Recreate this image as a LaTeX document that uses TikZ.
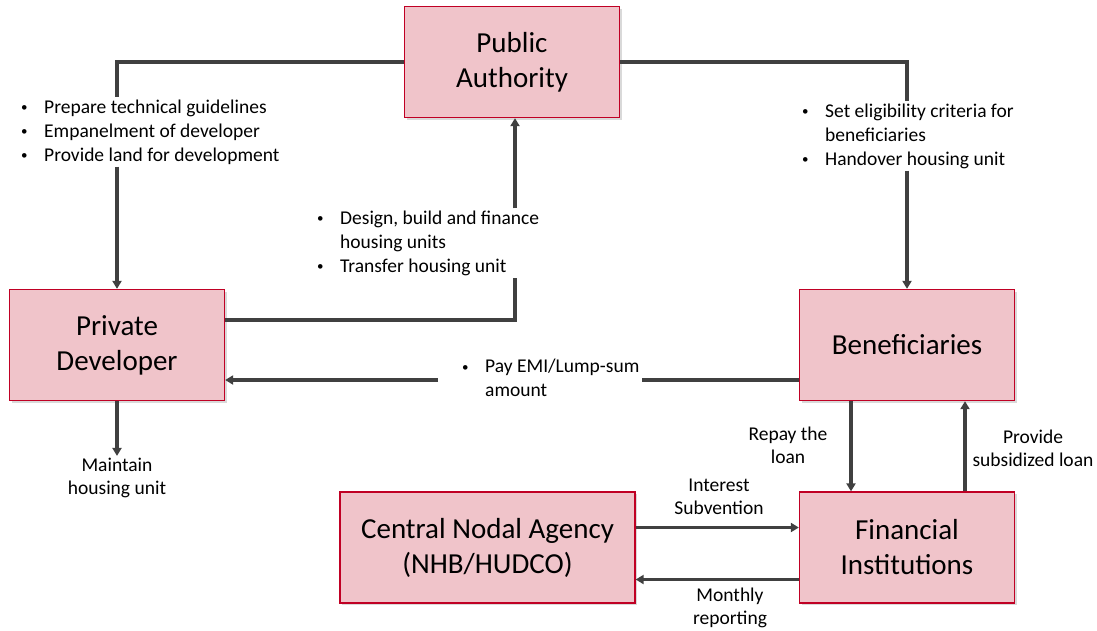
\documentclass[tikz,border=0pt]{standalone}
\usepackage{fontspec}
\setmainfont{Carlito}
\usepackage{xcolor}
\usepackage{tikz}
\usetikzlibrary{positioning, arrows.meta, calc, shadows}

\definecolor{boxfill}{RGB}{240,196,202}
\definecolor{boxline}{RGB}{192,0,36}
\definecolor{flowgray}{RGB}{64,64,64}
\newcommand{\bitem}[1]{\makebox[23pt][l]{\raisebox{1.5pt}{\fontsize{13}{13}\selectfont\textbullet}}#1}
\newcommand{\bcont}[1]{\hspace*{23pt}#1}

\begin{document}
\begin{tikzpicture}[x=1pt, y=-1pt,
    boxnode/.style={rectangle, draw=boxline, line width=1.3pt, fill=boxfill, minimum width=215pt, minimum height=111pt, align=center, font=\fontsize{29}{35}\selectfont, drop shadow={shadow xshift=2pt, shadow yshift=-2pt, opacity=0.3}},
    notenode/.style={align=left, inner sep=2pt, font=\fontsize{19.5}{24}\selectfont},
    labelnode/.style={align=center, inner sep=2pt, font=\fontsize{19.5}{23}\selectfont},
    flowline/.style={draw=flowgray, line width=3.2pt},
    flowarrow/.style={flowline, -{Triangle[length=8pt, width=9pt]}}
]
\useasboundingbox (0,0) rectangle (1097,630);
\node[boxnode](pa) at (512,62){Public\\Authority};
\node[boxnode](pd) at (117,345){Private\\Developer};
\node[boxnode](bf) at (907,345){Beneficiaries};
\node[boxnode, minimum width=295pt](cna) at (487.5,547.5){Central Nodal Agency\\(NHB/HUDCO)};
\node[boxnode](fi) at (907,547.5){Financial\\Institutions};

\node[notenode, anchor=west](guide) at (19,132){\bitem{Prepare technical guidelines}\\\bitem{Empanelment of developer}\\\bitem{Provide land for development}};
\node[notenode, anchor=west](elig) at (800,136){\bitem{Set eligibility criteria for}\\\bcont{beneficiaries}\\\bitem{Handover housing unit}};
\node[notenode, anchor=west](build) at (315,243){\bitem{Design, build and finance}\\\bcont{housing units}\\\bitem{Transfer housing unit}};
\node[notenode, anchor=west](pay) at (460,378){\bitem{Pay EMI/Lump-sum}\\\bcont{amount}};
\node[labelnode](maint) at (117,478){Maintain\\housing unit};
\node[labelnode](repay) at (788,445){Repay the\\loan};
\node[labelnode](loan) at (1033,448){Provide\\subsidized loan};
\node[labelnode](subv) at (719,497){Interest\\Subvention};
\node[labelnode](report) at (730,608){Monthly\\reporting};

% public authority to developer and beneficiaries
\draw[flowline] (pa.west) -| (guide.north -| pd.north);
\draw[flowarrow] (guide.south -| pd.north) -- (pd.north);
\draw[flowline] (pa.east) -| (elig.north -| bf.north);
\draw[flowarrow] (elig.south -| bf.north) -- (bf.north);
% developer back to authority
\draw[flowline] ([yshift=25pt]pd.east) -| ([xshift=3pt]build.south -| pa.south);
\draw[flowarrow] ([xshift=3pt]build.north -| pa.south) -- ([xshift=3pt]pa.south);
% payment
\draw[flowline] ([yshift=-35pt]bf.west) -- ([yshift=-35pt]bf.west -| pay.east);
\draw[flowarrow] ([yshift=-35pt,xshift=-22pt]bf.west -| pay.west) -- ([yshift=-35pt]pd.east);
\draw[flowarrow] (pd.south) -- (maint.north);
% loans
\draw[flowarrow] ([xshift=-56pt]bf.south) -- ([xshift=-56pt]bf.south |- fi.north);
\draw[flowarrow] ([xshift=58pt]fi.north) -- ([xshift=58pt]fi.north |- bf.south);
\draw[flowarrow] ([yshift=20pt]cna.east) -- ([yshift=20pt]cna.east -| fi.west);
\draw[flowarrow] ([yshift=-32pt]fi.west) -- ([yshift=-32pt]fi.west -| cna.east);
\end{tikzpicture}
\end{document}
